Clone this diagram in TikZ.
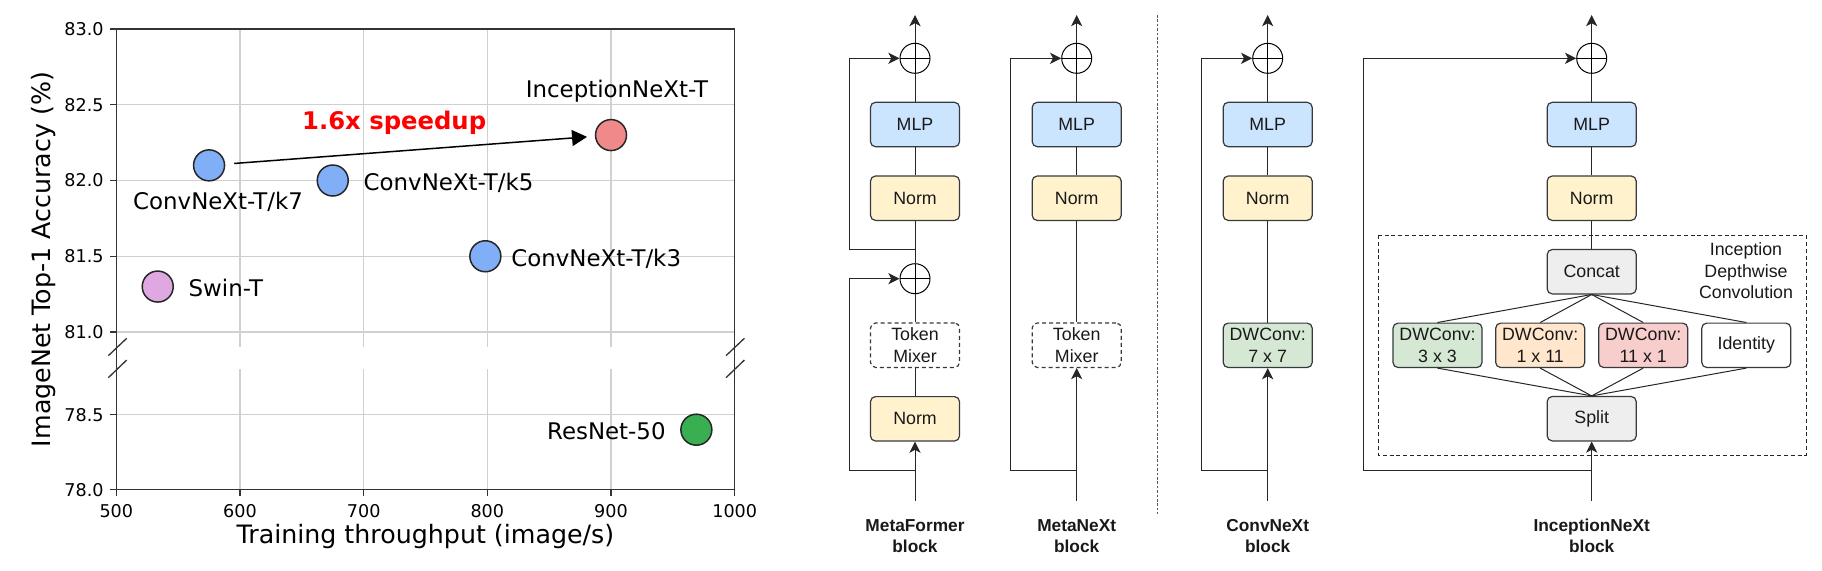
\documentclass[tikz,border=0pt]{standalone}
\usepackage{fontspec}
\setmainfont{Liberation Sans}
\newfontfamily\plotfont{DejaVu Sans}
\usetikzlibrary{arrows.meta}

\definecolor{mlpblue}{HTML}{CCE5FF}
\definecolor{normyellow}{HTML}{FFF2CC}
\definecolor{convgreen}{HTML}{D5E8D4}
\definecolor{convorange}{HTML}{FFE6CC}
\definecolor{convred}{HTML}{F8CECC}
\definecolor{opgray}{HTML}{EEEEEE}
\definecolor{edgegray}{HTML}{36393D}
\definecolor{gridgray}{HTML}{D0D0D0}
\definecolor{ptblue}{HTML}{80AEF7}
\definecolor{ptred}{HTML}{F08A8A}
\definecolor{ptpurple}{HTML}{E0A8E0}
\definecolor{ptgreen}{HTML}{3AAF52}

\tikzset{
  declare function={tx(\v)=116.3+1.2368*(\v-500); tyu(\v)=29+151.5*(83-\v); tyl(\v)=489.7-150*(\v-78);},
  spine/.style={draw=black!80, line width=0.65pt},
  gridline/.style={draw=gridgray, line width=0.6pt},
  dot/.style={circle, draw=black!85, line width=0.75pt, minimum size=15.5pt, inner sep=0pt},
  ticklbl/.style={font=\plotfont\fontsize{8.8}{10}\selectfont, inner sep=0pt},
  ptlbl/.style={font=\plotfont\fontsize{11.45}{13}\selectfont, inner sep=0pt},
  axlbl/.style={font=\plotfont\fontsize{12.65}{15}\selectfont, inner sep=0pt},
  speedarrow/.style={draw=black, line width=0.75pt, -{Triangle[length=7.5pt, width=8pt]}},
  blk/.style={draw=edgegray, line width=0.6pt, rounded corners=2.5pt, minimum width=44.5pt,
    minimum height=22.2pt, inner sep=0pt, align=center, text=black!90,
    font=\fontsize{8.9}{10.8}\selectfont},
  mixer/.style={blk, dash pattern=on 2pt off 1.5pt, fill=white},
  addop/.style={circle, draw=black, line width=0.5pt, minimum size=15pt, inner sep=0pt,
    path picture={\draw[line width=0.5pt] (path picture bounding box.west) -- (path picture bounding box.east)
      (path picture bounding box.north) -- (path picture bounding box.south);}},
  wire/.style={draw=black!85, line width=0.5pt},
  flow/.style={wire, -{Stealth[length=5.6pt, width=5.6pt, inset=1.5pt]}},
  blocklbl/.style={font=\bfseries\fontsize{8.65}{10.5}\selectfont, align=center, inner sep=0pt, text=black!90},
}

\begin{document}
\begin{tikzpicture}[x=0.5pt, y=-0.5pt]
    \useasboundingbox (0,0) rectangle (1822,570);

    % ---------- plot: grid and frame ----------
    \foreach \x in {600,700,800,900} {
        \draw[gridline] ({tx(\x)},29) -- ({tx(\x)},347.3);
        \draw[gridline] ({tx(\x)},369) -- ({tx(\x)},489.7);
    }
    \foreach \y in {82.5,82.0,81.5,81.0}
        \draw[gridline] (116.3,{tyu(\y)}) -- (734.7,{tyu(\y)});
    \draw[gridline] (116.3,{tyl(78.5)}) -- (734.7,{tyl(78.5)});
    \draw[spine] (116.3,29) rectangle (734.7,489.7);
    % broken axis marks
    \foreach \bx in {117.5,735.2} {
        \draw[spine] (\bx-9.2,355.7) -- (\bx+9.2,338.3);
        \draw[spine] (\bx-9.2,377.7) -- (\bx+9.2,360);
    }

    % ticks
    \foreach \y [count=\i] in {83.0,82.5,82.0,81.5,81.0} {
        \draw[spine] (116.3,{tyu(\y)}) -- ++(-6,0);
        \node[ticklbl, anchor=east] (yt\i) at (104,{tyu(\y)}) {\y};
    }
    \foreach \y [count=\i] in {78.5,78.0} {
        \draw[spine] (116.3,{tyl(\y)}) -- ++(-6,0);
        \node[ticklbl, anchor=east] (ylt\i) at (104,{tyl(\y)}) {\y};
    }
    \foreach \x in {500,600,700,800,900,1000} {
        \draw[spine] ({tx(\x)},489.7) -- ++(0,6);
        \node[ticklbl, anchor=north] (xt\x) at ({tx(\x)},504) {\x};
    }
    \node[axlbl, anchor=base] (xlab) at (425.4,543.3) {Training throughput (image/s)};
    \node[axlbl, anchor=base, rotate=90] (ylab) at (50.5,259.5) {ImageNet Top-1 Accuracy (\%)};

    % points
    \node[dot, fill=ptblue] (k7) at ({tx(575)},{tyu(82.1)}) {};
    \node[dot, fill=ptblue] (k5) at ({tx(675)},{tyu(82.0)}) {};
    \node[dot, fill=ptblue] (k3) at ({tx(798.4)},{tyu(81.5)}) {};
    \node[dot, fill=ptred] (inx) at ({tx(900)},{tyu(82.3)}) {};
    \node[dot, fill=ptpurple] (swin) at ({tx(533.5)},{tyu(81.3)}) {};
    \node[dot, fill=ptgreen] (r50) at ({tx(969)},{tyl(78.4)}) {};

    \node[ptlbl, anchor=base] (k7lab) at (218,209.3) {ConvNeXt-T/k7};
    \node[ptlbl, anchor=base west] (k5lab) at (363.3,190.7) {ConvNeXt-T/k5};
    \node[ptlbl, anchor=base west] (k3lab) at (511,266) {ConvNeXt-T/k3};
    \node[ptlbl, anchor=base] (inxlab) at (617,97.7) {InceptionNeXt-T};
    \node[ptlbl, anchor=base west] (swinlab) at (188.3,296.7) {Swin-T};
    \node[ptlbl, anchor=base east] (r50lab) at (666,439) {ResNet-50};

    \draw[speedarrow, shorten <=4.5pt, shorten >=3.9pt] (k7) -- (inx);
    \node[anchor=base west, inner sep=0pt, text=red, font=\plotfont\bfseries\fontsize{12.15}{14}\selectfont]
        (speed) at (301.7,129.3) {1.6x speedup};

    % ---------- blocks ----------
    \foreach \cx/\sx/\fy/\n in {915/849/249/a, 1076.7/1010.7/470/b, 1267.7/1201.7/470/c, 1591.7/1363.7/470/d} {
        \node[addop] (add-\n) at (\cx,58.3) {};
        \node[blk, fill=mlpblue] (mlp-\n) at (\cx,124.5) {MLP};
        \node[blk, fill=normyellow] (norm-\n) at (\cx,198.2) {Norm};
        \coordinate (out-\n) at (\cx,15);
        \coordinate (in-\n) at (\cx,500.7);
        \coordinate (fork-\n) at (\cx,\fy);
        \coordinate (sk-\n) at (\sx,\fy);
        \draw[flow] (add-\n.north) -- (out-\n);
        \draw[wire] (mlp-\n.north) -- (add-\n.south);
        \draw[wire] (norm-\n.north) -- (mlp-\n.south);
        \draw[flow] (fork-\n) -- (sk-\n) |- (add-\n.west);
    }

    % MetaFormer
    \node[addop] (add2-a) at (915,278.7) {};
    \node[mixer] (tm-a) at (915,345.2) {Token\\Mixer};
    \node[blk, fill=normyellow] (norm2-a) at (915,418.8) {Norm};
    \coordinate (fork2-a) at (915,470);
    \coordinate (sk2-a) at (849,470);
    \draw[wire] (norm-a.south) -- (add2-a.north);
    \draw[wire] (add2-a.south) -- (tm-a.north);
    \draw[wire] (tm-a.south) -- (norm2-a.north);
    \draw[flow] (in-a) -- (norm2-a.south);
    \draw[flow] (fork2-a) -- (sk2-a) |- (add2-a.west);

    % MetaNeXt
    \node[mixer] (tm-b) at (1076.7,345.2) {Token\\Mixer};
    \draw[wire] (norm-b.south) -- (tm-b.north);
    \draw[flow] (in-b) -- (tm-b.south);

    % ConvNeXt
    \node[blk, fill=convgreen] (dw-c) at (1267.7,345.3) {DWConv:\\7 x 7};
    \draw[wire] (norm-c.south) -- (dw-c.north);
    \draw[flow] (in-c) -- (dw-c.south);

    % InceptionNeXt
    \draw[draw=black!85, line width=0.5pt, dash pattern=on 2pt off 1.4pt] (1378.3,235) rectangle (1806,455);
    \node[font=\fontsize{8.9}{10.6}\selectfont, align=center, inner sep=0pt, text=black!90]
        (idlab) at (1746,270.7) {Inception\\Depthwise\\Convolution};
    \node[blk, fill=opgray] (concat) at (1591.7,271.7) {Concat};
    \node[blk, fill=opgray] (split) at (1591.7,418.7) {Split};
    \foreach \bx/\fc/\txt/\i in {1437.5/convgreen/{DWConv:\\3 x 3}/1, 1540.2/convorange/{DWConv:\\1 x 11}/2,
                                1643.2/convred/{DWConv:\\11 x 1}/3, 1746.3/white/Identity/4} {
        \node[blk, fill=\fc] (dw\i) at (\bx,345.3) {\txt};
        \draw[wire] (concat.south) -- (dw\i.north);
        \draw[wire] (dw\i.south) -- (split.north);
    }
    \draw[wire] (norm-d.south) -- (concat.north);
    \draw[flow] (in-d) -- (split.south);

    % separator
    \draw[draw=black!65, line width=0.65pt, dash pattern=on 1.3pt off 0.9pt] (1157.7,15) -- (1157.7,514.3);

    % block names
    \foreach \cx/\txt/\n in {915/{MetaFormer\\block}/a, 1076.7/{MetaNeXt\\block}/b,
                             1267.7/{ConvNeXt\\block}/c, 1591.7/{InceptionNeXt\\block}/d}
        \node[blocklbl] (name-\n) at (\cx,536) {\txt};
\end{tikzpicture}
\end{document}
